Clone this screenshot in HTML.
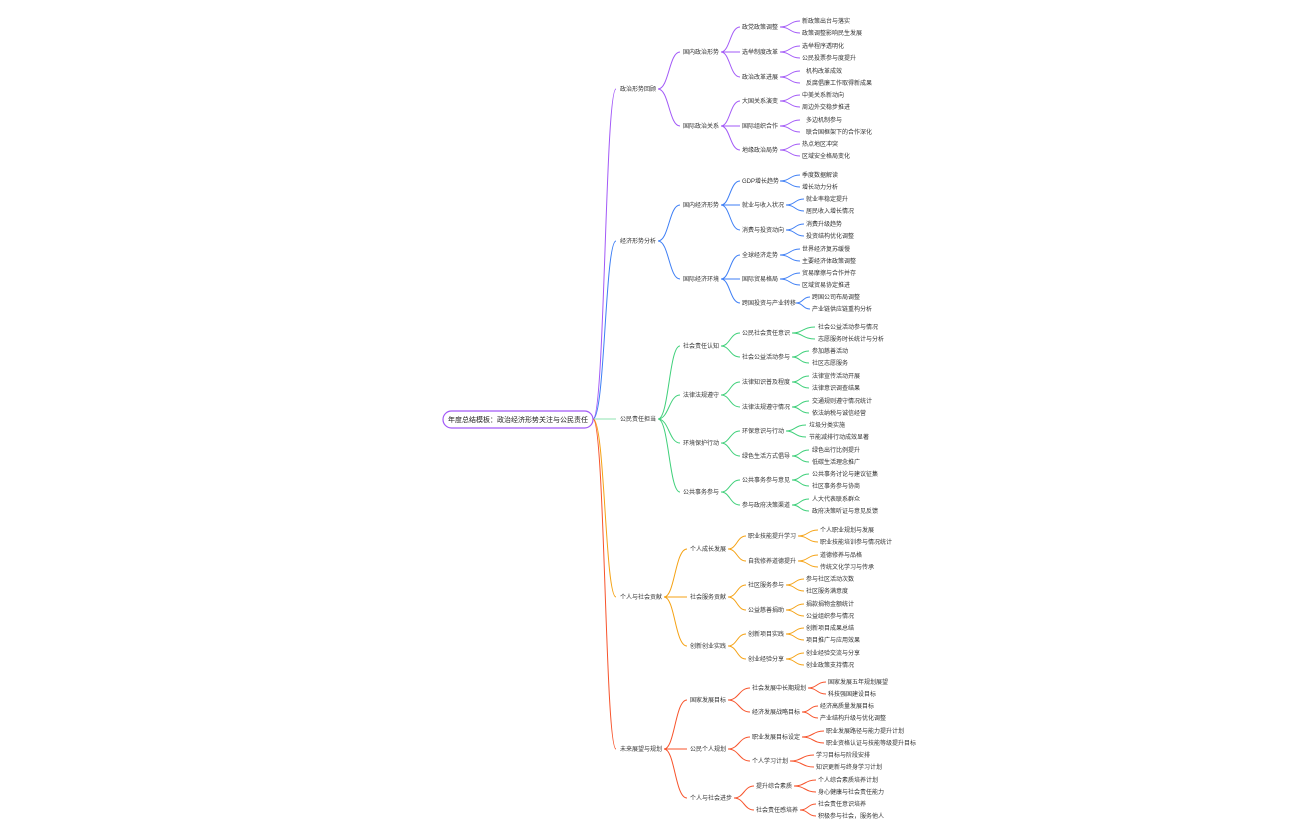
<!DOCTYPE html>
<html><head><meta charset="utf-8"><style>
html,body{margin:0;padding:0;background:#fff;}
svg{display:block;}
text{font-family:"Liberation Sans","Noto Sans CJK SC",sans-serif;font-size:6px;fill:#333;}
path{fill:none;stroke-width:1;}
</style></head><body>
<svg width="1296" height="840" viewBox="0 0 1296 840" xmlns="http://www.w3.org/2000/svg">
<!-- root connectors -->
<path d="M593 419 C605 419 605 89 616 89" stroke="#a259f7"/>
<path d="M593 419 C605 419 605 241 616 241" stroke="#3d7ef5"/>
<path d="M593 419 L616 419" stroke="#8fe3b0" stroke-width="1.5"/>
<path d="M593 419 C605 419 605 597 616 597" stroke="#f5a214"/>
<path d="M593 419 C605 419 605 749 616 749" stroke="#f7532b"/>
<rect x="443" y="411" width="150" height="17" rx="8.5" fill="#fff" stroke="#a259f7" stroke-width="1.2"/>
<text x="518" y="422" text-anchor="middle" style="font-size:7px;fill:#222">年度总结模板：政治经济形势关注与公民责任</text>

<!-- A -->
<g stroke="#a259f7">
<path d="M658 89 C669 89 669 52 680 52"/><path d="M658 89 C669 89 669 126 680 126"/>
<path d="M721 52 C730 52 730 27 740 27"/><path d="M721 52 L740 52"/><path d="M721 52 C730 52 730 77 740 77"/>
<path d="M721 126 C730 126 730 101 740 101"/><path d="M721 126 L740 126"/><path d="M721 126 C730 126 730 150 740 150"/>
<path d="M780 27 C790 27 790 21 800 21"/><path d="M780 27 C790 27 790 33 800 33"/>
<path d="M780 52 C790 52 790 46 800 46"/><path d="M780 52 C790 52 790 58 800 58"/>
<path d="M780 77 C790 77 790 71 800 71"/><path d="M780 77 C790 77 790 83 800 83"/>
<path d="M780 101 C790 101 790 95 800 95"/><path d="M780 101 C790 101 790 107 800 107"/>
<path d="M780 126 C790 126 790 120 800 120"/><path d="M780 126 C790 126 790 132 800 132"/>
<path d="M780 150 C790 150 790 144 800 144"/><path d="M780 150 C790 150 790 156 800 156"/>
</g>
<text x="620" y="91">政治形势回顾</text>
<text x="683" y="54">国内政治形势</text><text x="683" y="128">国际政治关系</text>
<text x="742" y="29">政党政策调整</text><text x="742" y="54">选举制度改革</text><text x="742" y="79">政治改革进展</text>
<text x="742" y="103">大国关系演变</text><text x="742" y="128">国际组织合作</text><text x="742" y="152">地缘政治局势</text>
<text x="802" y="23">新政策出台与落实</text><text x="802" y="35">政策调整影响民生发展</text>
<text x="802" y="48">选举程序透明化</text><text x="802" y="60">公民投票参与度提升</text>
<text x="806" y="73">机构改革成效</text><text x="806" y="85">反腐倡廉工作取得新成果</text>
<text x="802" y="97">中美关系新动向</text><text x="802" y="109">周边外交稳步推进</text>
<text x="806" y="122">多边机制参与</text><text x="806" y="134">联合国框架下的合作深化</text>
<text x="802" y="146">热点地区冲突</text><text x="802" y="158">区域安全格局变化</text>

<!-- B -->
<g stroke="#3d7ef5">
<path d="M658 241 C669 241 669 205 680 205"/><path d="M658 241 C669 241 669 279 680 279"/>
<path d="M721 205 C730 205 730 181 740 181"/><path d="M721 205 L740 205"/><path d="M721 205 C730 205 730 230 740 230"/>
<path d="M721 279 C730 279 730 255 740 255"/><path d="M721 279 L740 279"/><path d="M721 279 C730 279 730 303 740 303"/>
<path d="M780 181 C790 181 790 175 800 175"/><path d="M780 181 C790 181 790 187 800 187"/>
<path d="M786 205 C795 205 795 199 804 199"/><path d="M786 205 C795 205 795 211 804 211"/>
<path d="M786 230 C795 230 795 224 804 224"/><path d="M786 230 C795 230 795 236 804 236"/>
<path d="M780 255 C790 255 790 249 800 249"/><path d="M780 255 C790 255 790 261 800 261"/>
<path d="M780 279 C790 279 790 273 800 273"/><path d="M780 279 C790 279 790 285 800 285"/>
<path d="M796 303 C803 303 803 297 810 297"/><path d="M796 303 C803 303 803 309 810 309"/>
</g>
<text x="620" y="243">经济形势分析</text>
<text x="683" y="207">国内经济形势</text><text x="683" y="281">国际经济环境</text>
<text x="742" y="183">GDP增长趋势</text><text x="742" y="207">就业与收入状况</text><text x="742" y="232">消费与投资动向</text>
<text x="742" y="257">全球经济走势</text><text x="742" y="281">国际贸易格局</text><text x="742" y="305">跨国投资与产业转移</text>
<text x="802" y="177">季度数据解读</text><text x="802" y="189">增长动力分析</text>
<text x="806" y="201">就业率稳定提升</text><text x="806" y="213">居民收入增长情况</text>
<text x="806" y="226">消费升级趋势</text><text x="806" y="238">投资结构优化调整</text>
<text x="802" y="251">世界经济复苏缓慢</text><text x="802" y="263">主要经济体政策调整</text>
<text x="802" y="275">贸易摩擦与合作并存</text><text x="802" y="287">区域贸易协定推进</text>
<text x="812" y="299">跨国公司布局调整</text><text x="812" y="311">产业链供应链重构分析</text>

<!-- C -->
<g stroke="#3fd07a">
<path d="M658 419 C669 419 669 346 680 346"/><path d="M658 419 C669 419 669 395 680 395"/><path d="M658 419 C669 419 669 443 680 443"/><path d="M658 419 C669 419 669 492 680 492"/>
<path d="M721 346 C730 346 730 333 740 333"/><path d="M721 346 C730 346 730 357 740 357"/>
<path d="M721 395 C730 395 730 382 740 382"/><path d="M721 395 C730 395 730 407 740 407"/>
<path d="M721 443 C730 443 730 431 740 431"/><path d="M721 443 C730 443 730 456 740 456"/>
<path d="M721 492 C730 492 730 480 740 480"/><path d="M721 492 C730 492 730 505 740 505"/>
<path d="M792 333 C803 333 803 327 815 327"/><path d="M792 333 C803 333 803 339 815 339"/>
<path d="M792 357 C800 357 800 351 809 351"/><path d="M792 357 C800 357 800 363 809 363"/>
<path d="M792 382 C800 382 800 376 809 376"/><path d="M792 382 C800 382 800 388 809 388"/>
<path d="M792 407 C800 407 800 401 809 401"/><path d="M792 407 C800 407 800 413 809 413"/>
<path d="M786 431 C795 431 795 425 806 425"/><path d="M786 431 C795 431 795 437 806 437"/>
<path d="M792 456 C800 456 800 450 809 450"/><path d="M792 456 C800 456 800 462 809 462"/>
<path d="M792 480 C800 480 800 474 809 474"/><path d="M792 480 C800 480 800 486 809 486"/>
<path d="M792 505 C800 505 800 499 809 499"/><path d="M792 505 C800 505 800 511 809 511"/>
</g>
<text x="620" y="421">公民责任担当</text>
<text x="683" y="348">社会责任认知</text><text x="683" y="397">法律法规遵守</text><text x="683" y="445">环境保护行动</text><text x="683" y="494">公共事务参与</text>
<text x="742" y="335">公民社会责任意识</text><text x="742" y="359">社会公益活动参与</text>
<text x="742" y="384">法律知识普及程度</text><text x="742" y="409">法律法规遵守情况</text>
<text x="742" y="433">环保意识与行动</text><text x="742" y="458">绿色生活方式倡导</text>
<text x="742" y="482">公共事务参与意见</text><text x="742" y="507">参与政府决策渠道</text>
<text x="818" y="329">社会公益活动参与情况</text><text x="818" y="341">志愿服务时长统计与分析</text>
<text x="812" y="353">参加慈善活动</text><text x="812" y="365">社区志愿服务</text>
<text x="812" y="378">法律宣传活动开展</text><text x="812" y="390">法律意识调查结果</text>
<text x="812" y="403">交通规则遵守情况统计</text><text x="812" y="415">依法纳税与诚信经营</text>
<text x="809" y="427">垃圾分类实施</text><text x="809" y="439">节能减排行动成效显著</text>
<text x="812" y="452">绿色出行比例提升</text><text x="812" y="464">低碳生活理念推广</text>
<text x="812" y="476">公共事务讨论与建议征集</text><text x="812" y="488">社区事务参与协商</text>
<text x="812" y="501">人大代表联系群众</text><text x="812" y="513">政府决策听证与意见反馈</text>

<!-- D -->
<g stroke="#f5a214">
<path d="M664 597 C675 597 675 549 687 549"/><path d="M664 597 L687 597"/><path d="M664 597 C675 597 675 646 687 646"/>
<path d="M728 549 C737 549 737 536 746 536"/><path d="M728 549 C737 549 737 561 746 561"/>
<path d="M728 597 C737 597 737 585 746 585"/><path d="M728 597 C737 597 737 610 746 610"/>
<path d="M728 646 C737 646 737 634 746 634"/><path d="M728 646 C737 646 737 659 746 659"/>
<path d="M798 536 C808 536 808 530 818 530"/><path d="M798 536 C808 536 808 542 818 542"/>
<path d="M798 561 C808 561 808 555 818 555"/><path d="M798 561 C808 561 808 567 818 567"/>
<path d="M786 585 C795 585 795 579 804 579"/><path d="M786 585 C795 585 795 591 804 591"/>
<path d="M786 610 C795 610 795 604 804 604"/><path d="M786 610 C795 610 795 616 804 616"/>
<path d="M786 634 C795 634 795 628 804 628"/><path d="M786 634 C795 634 795 640 804 640"/>
<path d="M786 659 C795 659 795 653 804 653"/><path d="M786 659 C795 659 795 665 804 665"/>
</g>
<text x="620" y="599">个人与社会贡献</text>
<text x="690" y="551">个人成长发展</text><text x="690" y="599">社会服务贡献</text><text x="690" y="648">创新创业实践</text>
<text x="748" y="538">职业技能提升学习</text><text x="748" y="563">自我修养道德提升</text>
<text x="748" y="587">社区服务参与</text><text x="748" y="612">公益慈善捐助</text>
<text x="748" y="636">创新项目实践</text><text x="748" y="661">创业经验分享</text>
<text x="820" y="532">个人职业规划与发展</text><text x="820" y="544">职业技能培训参与情况统计</text>
<text x="820" y="557">道德修养与品格</text><text x="820" y="569">传统文化学习与传承</text>
<text x="806" y="581">参与社区活动次数</text><text x="806" y="593">社区服务满意度</text>
<text x="806" y="606">捐款捐物金额统计</text><text x="806" y="618">公益组织参与情况</text>
<text x="806" y="630">创新项目成果总结</text><text x="806" y="642">项目推广与应用效果</text>
<text x="806" y="655">创业经验交流与分享</text><text x="806" y="667">创业政策支持情况</text>

<!-- E -->
<g stroke="#f7532b">
<path d="M664 749 C675 749 675 700 687 700"/><path d="M664 749 L687 749"/><path d="M664 749 C675 749 675 798 687 798"/>
<path d="M728 700 C739 700 739 688 750 688"/><path d="M728 700 C739 700 739 712 750 712"/>
<path d="M728 749 C739 749 739 737 750 737"/><path d="M728 749 C739 749 739 761 750 761"/>
<path d="M734 798 C744 798 744 786 754 786"/><path d="M734 798 C744 798 744 810 754 810"/>
<path d="M808 688 C817 688 817 682 826 682"/><path d="M808 688 C817 688 817 694 826 694"/>
<path d="M802 712 C810 712 810 706 818 706"/><path d="M802 712 C810 712 810 718 818 718"/>
<path d="M802 737 C813 737 813 731 824 731"/><path d="M802 737 C813 737 813 743 824 743"/>
<path d="M790 761 C802 761 802 755 814 755"/><path d="M790 761 C802 761 802 767 814 767"/>
<path d="M794 786 C805 786 805 780 816 780"/><path d="M794 786 C805 786 805 792 816 792"/>
<path d="M800 810 C808 810 808 804 816 804"/><path d="M800 810 C808 810 808 816 816 816"/>
</g>
<text x="620" y="751">未来展望与规划</text>
<text x="690" y="702">国家发展目标</text><text x="690" y="751">公民个人规划</text><text x="690" y="800">个人与社会进步</text>
<text x="752" y="690">社会发展中长期规划</text><text x="752" y="714">经济发展战略目标</text>
<text x="752" y="739">职业发展目标设定</text><text x="752" y="763">个人学习计划</text>
<text x="756" y="788">提升综合素质</text><text x="756" y="812">社会责任感培养</text>
<text x="828" y="684">国家发展五年规划展望</text><text x="828" y="696">科技强国建设目标</text>
<text x="820" y="708">经济高质量发展目标</text><text x="820" y="720">产业结构升级与优化调整</text>
<text x="826" y="733">职业发展路径与能力提升计划</text><text x="826" y="745">职业资格认证与技能等级提升目标</text>
<text x="816" y="757">学习目标与阶段安排</text><text x="816" y="769">知识更新与终身学习计划</text>
<text x="818" y="782">个人综合素质培养计划</text><text x="818" y="794">身心健康与社会责任能力</text>
<text x="818" y="806">社会责任意识培养</text><text x="818" y="818">积极参与社会，服务他人</text>
</svg>
</body></html>
